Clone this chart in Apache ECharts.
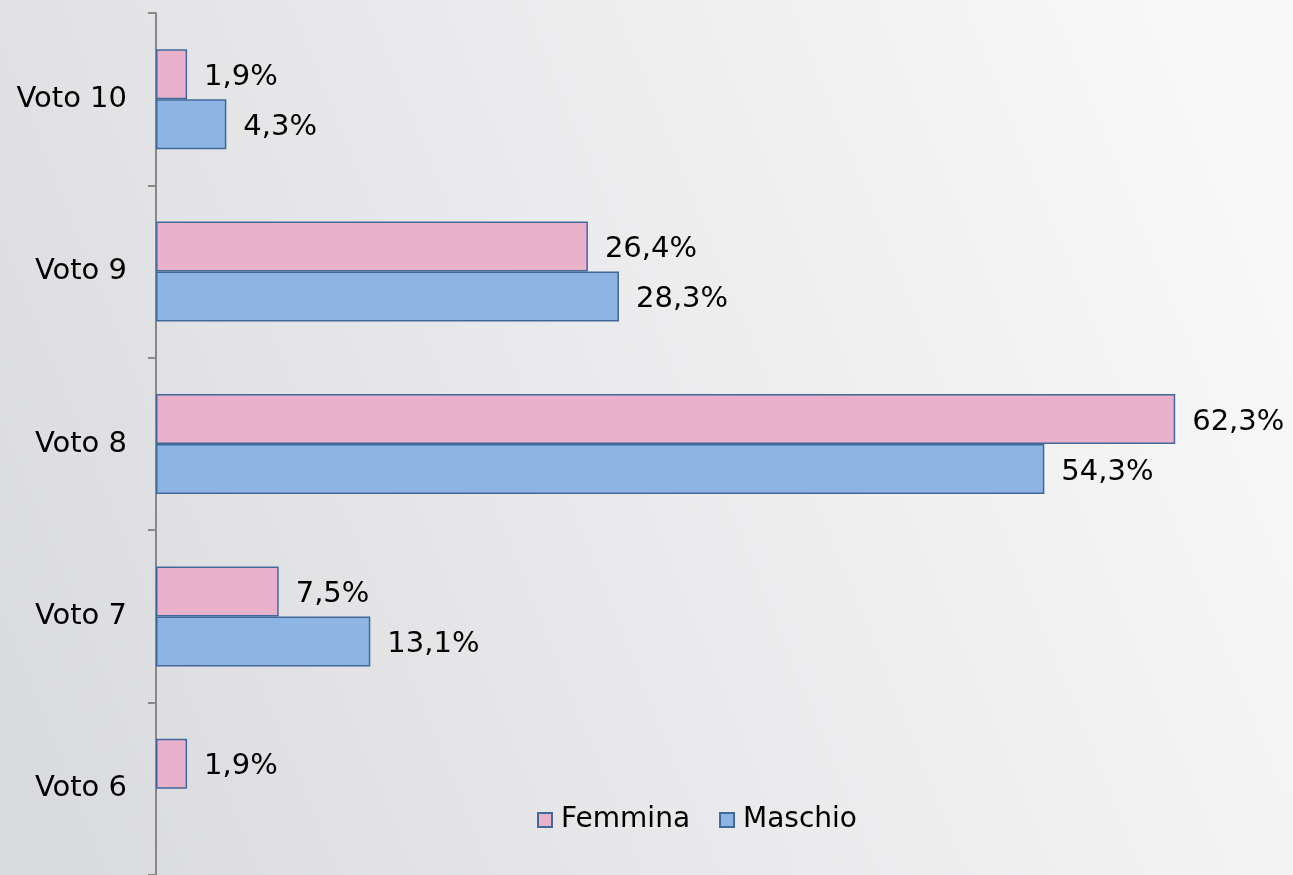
<!DOCTYPE html>
<html lang="it">
<head>
    <meta charset="UTF-8">
    <title>Voto per sesso</title>
    <style>
        body,html{
            width: 1293px;
            height: 875px;
            margin: 0;
            overflow: hidden;
        }
        #chart{
            width: 1293px;
            height: 875px;
        }
    </style>
</head>
<body>
<div id="chart"></div>
<script src="https://cdn.jsdelivr.net/npm/echarts@6/dist/echarts.min.js"></script>
<script type="text/javascript">

    //dati (dall'alto in basso)
    let categories = ['Voto 10', 'Voto 9', 'Voto 8', 'Voto 7', 'Voto 6'];
    let seriesNames = ['Femmina', 'Maschio'];
    let femmina = [1.9, 26.4, 62.3, 7.5, 1.9];
    let maschio = [4.3, 28.3, 54.3, 13.1, null];

    let font = '"DejaVu Sans", Verdana, sans-serif';

    function fmt(p) {   //1.9 -> "1,9%"
        return p.value.toFixed(1).replace('.', ',') + '%';
    }

    function barSeries(name, data, color) {
        return {
            name: name,
            type: 'bar',
            data: data.map(function (v) { return v === null ? '-' : v; }),
            barGap: '0%',
            barCategoryGap: '42%',
            itemStyle: {
                color: color,
                borderColor: '#41689b',
                borderWidth: 1.5
            },
            label: {
                show: true,
                position: 'right',
                distance: 17,
                offset: [0, 3],
                color: '#000',
                fontSize: 29,
                fontFamily: font,
                formatter: fmt
            }
        };
    }

    let myChart = echarts.init(document.getElementById('chart'));
    let option = {
        animation: false,
        backgroundColor: {
            type: 'linear',
            x: 0, y: 0.8, x2: 1, y2: 0.2,
            colorStops: [
                {offset: 0, color: '#dadbde'},
                {offset: 0.5, color: '#ebebed'},
                {offset: 1, color: '#f9f9f9'}
            ]
        },
        legend: {
            data: seriesNames,
            left: 532,
            top: 801,
            itemWidth: 14,
            itemHeight: 14,
            itemGap: 29,
            icon: 'rect',
            textStyle: {
                color: '#000',
                fontSize: 28,
                fontFamily: font,
                padding: [0, 0, 0, 4]
            }
        },
        grid: {
            left: 156,
            top: 13,
            right: 0,
            height: 864
        },
        xAxis: {
            type: 'value',
            min: 0,
            max: 69.5,
            show: false
        },
        yAxis: {
            type: 'category',
            inverse: true,
            data: categories,
            axisLine: {
                show: true,
                lineStyle: {color: '#888', width: 2}
            },
            axisTick: {
                show: true,
                length: 8,
                lineStyle: {color: '#888', width: 2}
            },
            axisLabel: {
                margin: 29,
                padding: [14, 0, 0, 0],
                color: '#000',
                fontSize: 29,
                fontFamily: font
            }
        },
        series: [
            barSeries('Femmina', femmina, '#eab1ca'),
            barSeries('Maschio', maschio, '#8eb4e3')
        ]
    };
    myChart.setOption(option);
</script>
</body>
</html>
